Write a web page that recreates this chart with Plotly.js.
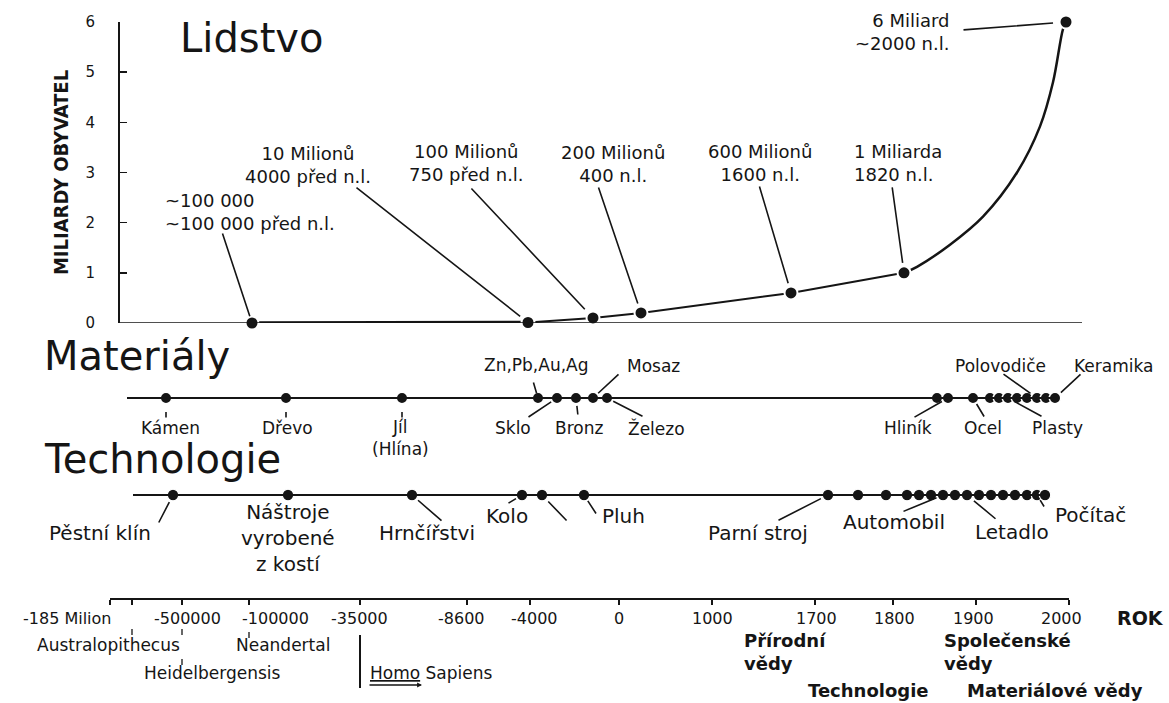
<!DOCTYPE html>
<html>
<head>
<meta charset="utf-8">
<script src="https://cdn.plot.ly/plotly-3.0.1.min.js"></script>
<style>html,body{margin:0;padding:0;background:#fff}#chart{width:1169px;height:703px}</style>
</head>
<body>
<div id="chart"></div>
<script>
// ================= DATA =================
// Lidstvo – world population (billions) placed on the schematic time line
const popLabels = ['~100 000<br>~100 000 před n.l.', '10 Milionů<br>4000 před n.l.', '100 Milionů<br>750 před n.l.',
                   '200 Milionů<br>400 n.l.', '600 Milionů<br>1600 n.l.', '1 Miliarda<br>1820 n.l.', '6 Miliard<br>~2000 n.l.'];
const popBillions = [0.0001, 0.01, 0.1, 0.2, 0.6, 1.0, 6.0];
const popTimeline = [252, 528, 593, 641, 791, 904, 1066];
// growth curve 1820 → 2000
const curveTimeline = [904, 917, 950, 983, 1017, 1040, 1053, 1063, 1066];
const curveBillions = [1.0, 1.12, 1.56, 2.12, 3.0, 3.92, 4.8, 5.86, 6.0];

// Materiály
const materialLabels = ['Kámen', 'Dřevo', 'Jíl<br>(Hlína)', 'Zn,Pb,Au,Ag', 'Sklo', 'Bronz', 'Mosaz', 'Železo', '', 'Hliník', 'Ocel',
                        '', '', 'Plasty', '', '', 'Polovodiče', '', 'Keramika'];
const materialTimeline = [166, 286, 402, 538, 557, 576, 593, 607, 937, 948, 973, 990, 999, 1008, 1017, 1027, 1037, 1046, 1055];

// Technologie
const techLabels = ['Pěstní klín', 'Náštroje<br>vyrobené<br>z kostí', 'Hrnčířstvi', 'Kolo', '', 'Pluh', 'Parní stroj',
                    '', '', '', '', '', 'Automobil', '', 'Letadlo', '', '', '', '', '', 'Počítač', ''];
const techTimeline = [173, 288, 412, 522, 542, 584, 828, 858, 886, 907, 919, 931, 943, 955, 967, 979, 991, 1003, 1015, 1027, 1037, 1045];

// Time axis (ROK)
const axisTickTimeline = [110, 132, 182, 249, 360, 467, 530, 619, 712, 815, 893, 976, 1069];
const axisTickLabels = ['-185 Milion', '-500000', '-100000', '-35000', '-8600', '-4000', '0', '1000', '1700', '1800', '1900', '2000'];

// Hominids and sciences under the axis
const hominids = ['Australopithecus', 'Neandertal', 'Heidelbergensis', '<span style="text-decoration:underline">Homo</span> Sapiens'];
const sciences = ['Přírodní<br>vědy', 'Společenské<br>vědy', 'Technologie', 'Materiálové vědy'];

// ================= LAYOUT / STYLE =================
const W = 1169, H = 703;
const ink = '#151515';
const FONT = 'DejaVu Sans, Verdana, sans-serif';
const yPaper = p => 1 - p / H;

// label placement: text offset (dx,dy px), anchor, leader tail offset (px), standoff
const popPlace = {
  0: {dx: -89, dy: -111, anchor: 'left', tail: [-30, -91], st: 7},
  1: {dx: -220, dy: -158, anchor: 'center', tail: [-173, -136], st: 10},
  2: {dx: -127, dy: -155, anchor: 'center', tail: [-123, -131], st: 12},
  3: {dx: -28, dy: -149, anchor: 'center', tail: [-43, -127], st: 10},
  4: {dx: -31, dy: -130, anchor: 'center', tail: [-32, -108], st: 10},
  5: {dx: -52, dy: -110, anchor: 'left', tail: [-12, -87], st: 10},
  6: {dx: -115, dy: 10, anchor: 'right', tail: [-104, 8], st: 13}
};
const matPlace = {
  0: {dx: 4, dy: 30, tail: [0, 21], st: 14},
  1: {dx: 1, dy: 30, tail: [0, 21], st: 14},
  2: {dx: -2, dy: 40, tail: [0, 21], st: 14},
  3: {dx: -2, dy: -33, tail: [-5, -17], st: 5},
  4: {dx: -44, dy: 30, tail: [-30, 20], st: 7},
  5: {dx: 3, dy: 30, tail: [2, 18], st: 8},
  6: {dx: 60, dy: -32, tail: [27, -25], st: 7},
  7: {dx: 49, dy: 30, tail: [37, 19], st: 7},
  9: {dx: -40, dy: 30, tail: [-35, 20], st: 7},
  10: {dx: 10, dy: 30, tail: [12, 20], st: 7},
  13: {dx: 49, dy: 30, tail: [35, 19], st: 7},
  16: {dx: -37, dy: -32, tail: [-35, -25], st: 8},
  18: {dx: 58, dy: -32, tail: [27, -25], st: 8}
};
const techPlace = {
  0: {dx: -73, dy: 38, tail: [-15, 29], st: 8},
  1: {dx: 0, dy: 43, tail: null},
  2: {dx: 15, dy: 38, tail: [31, 27], st: 8},
  3: {dx: -15, dy: 21, tail: [-15, 9], st: 7},
  4: {dx: 0, dy: 0, tail: [26, 27], st: 9},
  5: {dx: 39, dy: 21, tail: [13, 20], st: 7},
  6: {dx: -70, dy: 38, tail: [-51, 26], st: 8},
  12: {dx: -49, dy: 27, tail: [-41, 17], st: 7},
  14: {dx: 45, dy: 37, tail: [30, 25], st: 9},
  20: {dx: 53, dy: 20, tail: [8, 13], st: 6}
};
const tickLabelX = [67, 187, 275, 359, 461, 534, 619, 712, 816, 894, 973, 1061];

const annotations = [];
function addLabels(xs, ys, yref, labels, place, size) {
  Object.keys(place).forEach(k => {
    const i = +k, p = place[k];
    if (labels[i]) {
      annotations.push({x: xs[i], y: ys[i], xref: 'x', yref: yref, text: labels[i], showarrow: false,
        xanchor: p.anchor || 'center', yanchor: 'middle', align: p.anchor || 'center',
        xshift: p.dx, yshift: -p.dy, font: {family: FONT, size: size, color: ink}});
    }
    if (p.tail) {
      annotations.push({x: xs[i], y: ys[i], xref: 'x', yref: yref, text: '', showarrow: true,
        arrowhead: 0, arrowwidth: 1.6, arrowcolor: ink, ax: p.tail[0], ay: p.tail[1], standoff: p.st});
    }
  });
}
addLabels(popTimeline, popBillions, 'y', popLabels, popPlace, 18);
addLabels(materialTimeline, materialTimeline.map(() => 0), 'y2', materialLabels, matPlace, 17);
addLabels(techTimeline, techTimeline.map(() => 0), 'y3', techLabels, techPlace, 20);

// section titles
[['Lidstvo', 178, 38], ['Materiály', 42, 356], ['Technologie', 42, 459]].forEach(t => {
  annotations.push({x: t[1], y: yPaper(t[2]), xref: 'x', yref: 'paper', text: t[0], showarrow: false,
    xanchor: 'left', yanchor: 'middle', font: {family: FONT, size: 40, color: ink}});
});

// time-axis labels
axisTickLabels.forEach((t, i) => {
  annotations.push({x: tickLabelX[i], y: yPaper(618), xref: 'x', yref: 'paper', text: t, showarrow: false,
    xanchor: 'center', yanchor: 'middle', font: {family: FONT, size: 16, color: ink}});
});
annotations.push({x: 1166, y: yPaper(618), xref: 'x', yref: 'paper', text: '<b>ROK</b>', showarrow: false,
  xanchor: 'right', yanchor: 'middle', font: {family: FONT, size: 19, color: ink}});

// hominids
[[0, 108, 645, 'center'], [1, 283, 645, 'center'], [2, 212, 673, 'center'], [3, 368, 673, 'left']].forEach(h => {
  annotations.push({x: h[1], y: yPaper(h[2]), xref: 'x', yref: 'paper', text: hominids[h[0]], showarrow: false,
    xanchor: h[3], yanchor: 'middle', font: {family: FONT, size: 17, color: ink}});
});
annotations.push({x: 422, y: yPaper(685), xref: 'x', yref: 'paper', text: '', showarrow: true,
  arrowhead: 2, arrowsize: 0.7, arrowwidth: 1.4, arrowcolor: ink, ax: -54, ay: 0});

// sciences
[[0, 742, 652, 'left'], [1, 942, 652, 'left'], [2, 868, 690, 'center'], [3, 1055, 690, 'center']].forEach(s => {
  annotations.push({x: s[1], y: yPaper(s[2]), xref: 'x', yref: 'paper', text: '<b>' + sciences[s[0]] + '</b>', showarrow: false,
    xanchor: s[3], yanchor: 'middle', align: 'left', font: {family: FONT, size: 18, color: ink}});
});

// decoration lines
const shapes = [];
const ln = (x0, y0, x1, y1, yref, w) => shapes.push({type: 'line', xref: 'x', yref: yref, x0: x0, x1: x1, y0: y0, y1: y1,
  line: {color: ink, width: w}});
ln(118, 0, 1082, 0, 'y', 1.3);                 // baseline of the population chart
ln(127, 0, 1055, 0, 'y2', 2);                   // materials time line
ln(133, 0, 1045, 0, 'y3', 2);                   // technology time line
ln(132, yPaper(629), 132, yPaper(635), 'paper', 1.3);
ln(182, yPaper(629), 182, yPaper(635), 'paper', 1.3);
ln(182, yPaper(659), 182, yPaper(665), 'paper', 1.3);
ln(249, yPaper(632), 249, yPaper(638), 'paper', 1.3);
ln(360, yPaper(635), 360, yPaper(688), 'paper', 2);  // Homo sapiens boundary

// ================= TRACES =================
const dot = (size, outline) => ({color: ink, size: size, line: {color: '#fff', width: outline}});
const traces = [
  {x: popTimeline.slice(0, 2), y: popBillions.slice(0, 2), mode: 'lines', line: {color: ink, width: 3.5}, cliponaxis: false},
  {x: popTimeline.slice(1, 6), y: popBillions.slice(1, 6), mode: 'lines', line: {color: ink, width: 2}, cliponaxis: false},
  {x: curveTimeline, y: curveBillions, mode: 'lines', line: {color: ink, width: 2.5, shape: 'spline'}, cliponaxis: false},
  {x: popTimeline, y: popBillions, mode: 'markers', marker: dot(13, 2), cliponaxis: false},
  {x: materialTimeline, y: materialTimeline.map(() => 0), yaxis: 'y2', mode: 'markers', marker: dot(11.5, 1.5), cliponaxis: false},
  {x: techTimeline, y: techTimeline.map(() => 0), yaxis: 'y3', mode: 'markers', marker: dot(11.5, 1.2), cliponaxis: false},
  // carrier for the time axis (ticks only, nothing visible)
  {x: axisTickTimeline, y: axisTickTimeline.map(() => 0), xaxis: 'x2', yaxis: 'y4', mode: 'markers',
   marker: {size: 1, opacity: 0}, hoverinfo: 'skip'}
];

const rowDomain = p => [yPaper(p) - 0.02, yPaper(p) + 0.02];
const layout = {
  width: W, height: H, margin: {l: 0, r: 0, t: 0, b: 0},
  paper_bgcolor: '#fff', plot_bgcolor: 'rgba(0,0,0,0)', showlegend: false,
  xaxis: {range: [0, W], domain: [0, 1], visible: false, fixedrange: true},
  xaxis2: {range: [110, 1069], domain: [110 / W, 1069 / W], anchor: 'y4', side: 'bottom',
    showline: true, linecolor: ink, linewidth: 1.5, ticks: 'outside', ticklen: 5, tickwidth: 1.5, tickcolor: ink,
    tickvals: axisTickTimeline, showticklabels: false, showgrid: false, zeroline: false, fixedrange: true},
  yaxis: {domain: [yPaper(323), yPaper(22)], range: [0, 6], anchor: 'free', position: 118 / W,
    showline: true, linecolor: ink, linewidth: 1.5, ticks: 'inside', ticklen: 7, tickwidth: 1.5, tickcolor: ink,
    tickvals: [0, 1, 2, 3, 4, 5, 6], ticklabelstandoff: 20, tickfont: {family: FONT, size: 15, color: ink},
    showgrid: false, zeroline: false, fixedrange: true,
    title: {text: 'MILIARDY OBYVATEL', standoff: 10,
      font: {family: 'Liberation Sans Narrow, DejaVu Sans Condensed, Liberation Sans, sans-serif', size: 20, weight: 'bold', color: ink}}},
  yaxis2: {domain: rowDomain(398), range: [-1, 1], visible: false, fixedrange: true},
  yaxis3: {domain: rowDomain(495), range: [-1, 1], visible: false, fixedrange: true},
  yaxis4: {domain: [yPaper(598), yPaper(598) + 0.02], range: [-1, 1], visible: false, fixedrange: true, anchor: 'x2'},
  annotations: annotations, shapes: shapes
};

Plotly.newPlot('chart', traces, layout, {staticPlot: true, displayModeBar: false});
</script>
</body>
</html>
